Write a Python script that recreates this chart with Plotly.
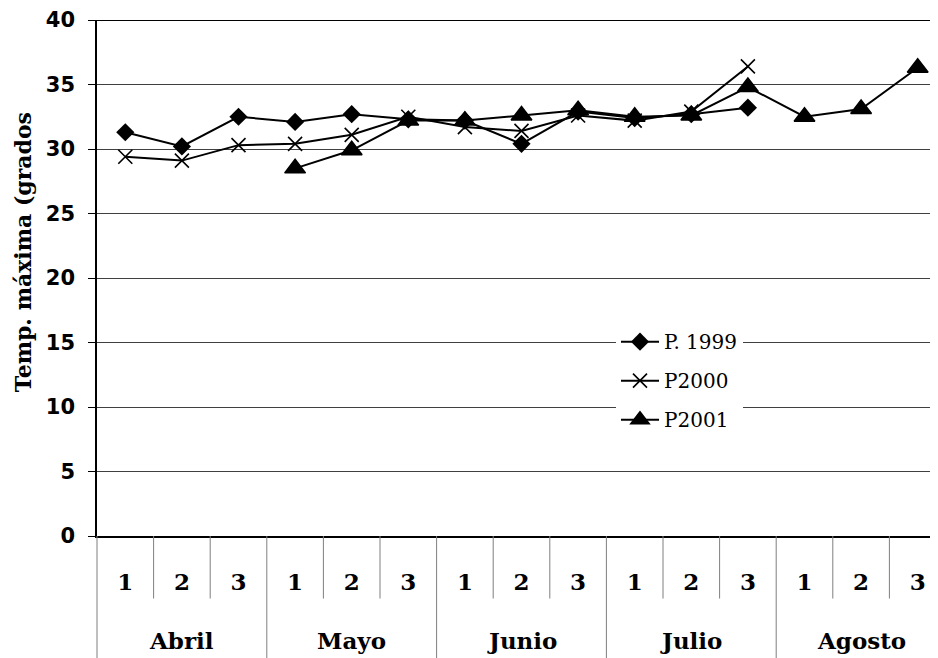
import plotly.graph_objects as go

months = ["Abril", "Mayo", "Junio", "Julio", "Agosto"]
decades = ["1", "2", "3"]
categories = [(m, d) for m in months for d in decades]

p1999 = [31.3, 30.2, 32.5, 32.1, 32.7, 32.3, 32.2, 30.4, 32.9, 32.4, 32.7, 33.2, None, None, None]
p2000 = [29.4, 29.1, 30.3, 30.4, 31.1, 32.5, 31.7, 31.4, 32.6, 32.2, 32.9, 36.4, None, None, None]
p2001 = [None, None, None, 28.5, 29.9, 32.2, 32.2, 32.6, 33.0, 32.5, 32.6, 34.8, 32.5, 33.1, 36.3]

y_ticks = [0, 5, 10, 15, 20, 25, 30, 35, 40]

x = list(range(len(categories)))
inner_text = [d for (_, d) in categories]

fig = go.Figure()
fig.add_trace(go.Scatter(
    x=x, y=p1999, name="P. 1999", mode="lines+markers", legendgroup="a",
    line=dict(color="black", width=2),
    marker=dict(symbol="diamond", size=14, color="black"),
))
fig.add_trace(go.Scatter(
    x=x, y=p2000, name="P2000", mode="lines+markers", legendgroup="b",
    line=dict(color="black", width=2),
    marker=dict(symbol="x-thin-open", size=14, color="black", line=dict(width=1.6, color="black")),
))
fig.add_trace(go.Scatter(
    x=x, y=p2001, name="P2001", mode="lines+markers", legendgroup="c",
    line=dict(color="black", width=2),
    marker=dict(symbol="triangle-up", size=18, color="black", line=dict(width=1.5, color="black")),
))

# page body has an 8px margin: figure origin sits at (8, 8) in the window
W, H = 930, 650
L, T, B = 89, 12, 122.3
PLOT_W = W - L
PLOT_H = H - T - B

shapes = []
n = len(categories)
for i in range(n):
    b = i + 0.5
    if b > n - 0.5:
        continue
    outer = (i + 1) % len(decades) == 0
    shapes.append(dict(
        type="line", xref="x", yref="paper", x0=b, x1=b, y0=0,
        y1=-(B if outer else 62.5) / PLOT_H,
        line=dict(color="#7f7f7f", width=1),
    ))
shapes.append(dict(type="line", xref="paper", yref="paper", x0=0, x1=0, y0=0,
                   y1=-B / PLOT_H, line=dict(color="#7f7f7f", width=1)))
shapes.append(dict(type="line", xref="paper", yref="y", x0=0, x1=1, y0=40, y1=40,
                   line=dict(color="black", width=2)))

annotations = []
for k, m in enumerate(months):
    annotations.append(dict(
        text="<b>%s</b>" % m, x=k * len(decades) + 1, xref="x", y=-104 / PLOT_H, yref="paper",
        showarrow=False, xanchor="center", yanchor="middle",
        font=dict(family="DejaVu Serif", size=23, color="black"),
    ))
annotations.append(dict(
    text="<b>Temp. máxima (grados</b>", x=-74 / PLOT_W, xref="paper", y=(PLOT_H - 232) / PLOT_H, yref="paper",
    showarrow=False, textangle=-90, xanchor="center", yanchor="middle",
    font=dict(family="DejaVu Serif", size=22, color="black"),
))

fig.update_layout(
    width=W, height=H,
    margin=dict(l=L, r=0, t=T, b=B),
    paper_bgcolor="white", plot_bgcolor="white",
    showlegend=True,
    legend=dict(
        x=(608 - 89) / PLOT_W, y=(515.7 - 302) / PLOT_H, xanchor="left", yanchor="top",
        bgcolor="white", borderwidth=0, traceorder="grouped", tracegroupgap=10,
        itemwidth=38,
        font=dict(family="DejaVu Serif", size=20, color="black"),
    ),
    xaxis=dict(
        range=[-0.5, n - 0.5 - 8 / 56.6], tickmode="array", tickvals=x, ticktext=inner_text,
        showgrid=False, zeroline=False, showline=True, linecolor="black", linewidth=2,
        ticks="", ticklabelstandoff=24, automargin=False,
        tickfont=dict(family="DejaVu Serif", size=23, color="black", weight="bold"),
    ),
    yaxis=dict(
        range=[0, 40], tickmode="array", tickvals=y_ticks,
        showgrid=True, gridcolor="#404040", gridwidth=1, zeroline=False,
        showline=True, linecolor="black", linewidth=1.5,
        ticks="outside", ticklen=7, tickcolor="black", tickwidth=1,
        ticklabelstandoff=9, automargin=False,
        tickfont=dict(family="DejaVu Sans", size=21, color="black", weight="bold"),
    ),
    shapes=shapes,
    annotations=annotations,
)

fig.write_html("out.html")
